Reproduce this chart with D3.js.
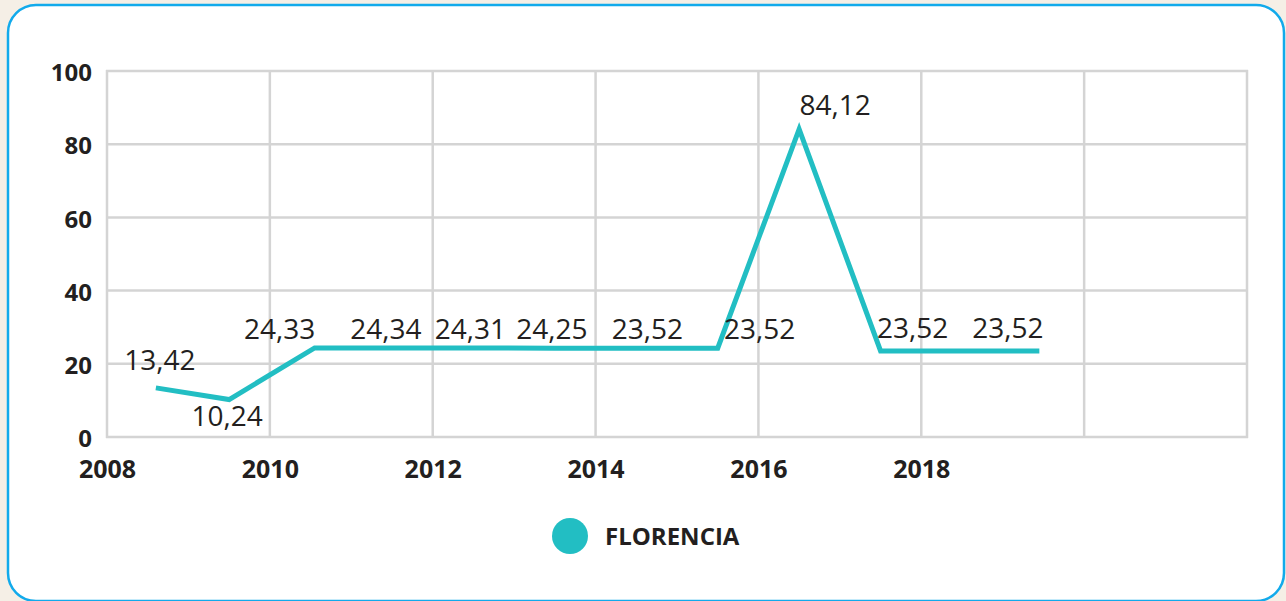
<!DOCTYPE html>
<html>
<head>
<meta charset="utf-8">
<script src="https://cdnjs.cloudflare.com/ajax/libs/d3/7.8.5/d3.min.js"></script>
<style>
  body { margin: 0; background: #f5efe6; }
  text { font-family: "Open Sans", sans-serif; fill: #231f20; }
  .tick text { font-weight: 700; font-size: 24px; }
</style>
</head>
<body>
<div class="chart"></div>
<script>
// data (line; the printed labels are kept as shown)
var years = [2008.6, 2009.5, 2010.55, 2011.5, 2012.5, 2013.5, 2014.5, 2015.5, 2016.5, 2017.5, 2018.5, 2019.45];
var values = [13.42, 10.24, 24.33, 24.34, 24.31, 24.25, 24.25, 24.25, 84.12, 23.52, 23.52, 23.52];
var valueLabels = ["13,42", "10,24", "24,33", "24,34", "24,31", "24,25", "23,52", "23,52", "84,12", "23,52", "23,52", ""];
var xTicks = [2008, 2010, 2012, 2014, 2016, 2018];
var xGrid = [2008, 2010, 2012, 2014, 2016, 2018, 2020, 2022];
var yTicks = [0, 20, 40, 60, 80, 100];
var seriesName = "FLORENCIA";

// label offsets (px) from each point, as placed in the original
var labelOffsets = [[4, -18], [-2, 26], [-35, -9], [-6, -9], [-3, -9], [-3, -9],
  [11, -9], [42, -9], [36, -14], [32, -13], [46, -13], [0, 0]];

var svgWidth = 1286;
var svgHeight = 601;
var lineColor = "#22bec3";
var gridColor = "#d4d4d4";

var svg = d3.select(".chart")
  .append("svg")
  .attr("width", svgWidth)
  .attr("height", svgHeight)
  .style("display", "block");

// rounded frame
svg.append("rect")
  .attr("x", 8)
  .attr("y", 5)
  .attr("width", 1276)
  .attr("height", 596)
  .attr("rx", 28)
  .attr("ry", 28)
  .attr("fill", "white")
  .attr("stroke", "#12aaeb")
  .attr("stroke-width", 2.5);

var xScale = d3.scaleLinear().domain([2008, 2022]).range([107, 1247]);
var yScale = d3.scaleLinear().domain([0, 100]).range([437, 71]);

// grid
svg.append("g").selectAll("line")
  .data(xGrid)
  .enter()
  .append("line")
  .attr("x1", d => xScale(d))
  .attr("x2", d => xScale(d))
  .attr("y1", yScale(0) + 1)
  .attr("y2", yScale(100) - 1)
  .attr("stroke", gridColor)
  .attr("stroke-width", 2.5);

svg.append("g").selectAll("line")
  .data(yTicks)
  .enter()
  .append("line")
  .attr("x1", xScale(2008) - 1)
  .attr("x2", xScale(2022) + 1)
  .attr("y1", d => yScale(d))
  .attr("y2", d => yScale(d))
  .attr("stroke", gridColor)
  .attr("stroke-width", 2.5);

// axes (labels only)
var bottomAxis = d3.axisBottom(xScale)
  .tickValues(xTicks)
  .tickSize(0)
  .tickPadding(23)
  .tickFormat(d3.format("d"));

var xAxis = svg.append("g")
  .attr("transform", `translate(0, ${yScale(0)})`)
  .call(bottomAxis);
xAxis.select(".domain").remove();
xAxis.selectAll("text").attr("fill", "#231f20").style("font-size", "25px");

var leftAxis = d3.axisLeft(yScale)
  .tickValues(yTicks)
  .tickSize(0)
  .tickPadding(15);

var yAxis = svg.append("g")
  .attr("transform", `translate(${xScale(2008)}, 0)`)
  .call(leftAxis);
yAxis.select(".domain").remove();
yAxis.selectAll("text").attr("fill", "#231f20").attr("dy", "0.4em");

// line
var points = years.map((d, i) => ({ year: d, value: values[i], label: valueLabels[i], off: labelOffsets[i] }));

var line = d3.line()
  .x(d => xScale(d.year))
  .y(d => yScale(d.value));

svg.append("path")
  .datum(points)
  .attr("d", line)
  .attr("fill", "none")
  .attr("stroke", lineColor)
  .attr("stroke-width", 5)
  .attr("stroke-linejoin", "miter");

// value labels
svg.append("g").selectAll("text")
  .data(points.filter(d => d.label !== ""))
  .enter()
  .append("text")
  .attr("x", d => xScale(d.year) + d.off[0])
  .attr("y", d => yScale(d.value) + d.off[1])
  .attr("text-anchor", "middle")
  .attr("font-size", "28px")
  .text(d => d.label);

// legend
var legend = svg.append("g").attr("transform", "translate(570, 536)");
legend.append("circle")
  .attr("r", 18)
  .attr("fill", lineColor);
legend.append("text")
  .attr("x", 35)
  .attr("y", 9)
  .attr("font-size", "24px")
  .attr("font-weight", 700)
  .text(seriesName);
</script>
</body>
</html>
